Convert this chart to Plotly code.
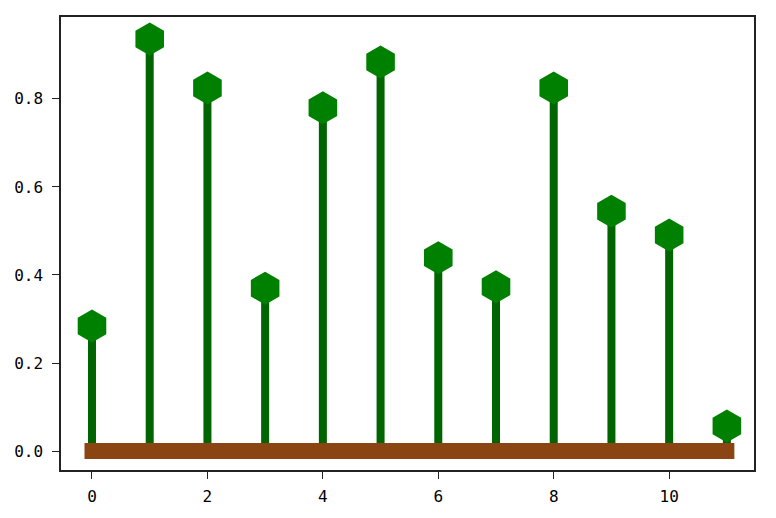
import plotly.graph_objects as go

x_vals = list(range(12))
y_vals = [0.284, 0.936, 0.825, 0.370, 0.780, 0.884, 0.439, 0.373, 0.825, 0.545, 0.491, 0.057]
x_ticks = [0, 2, 4, 6, 8, 10]
y_ticks = [0.0, 0.2, 0.4, 0.6, 0.8]
baseline_value = 0.0

stem_x, stem_y = [], []
for xv, yv in zip(x_vals, y_vals):
    stem_x += [xv, xv, None]
    stem_y += [baseline_value, yv, None]

cap = 0.13
fig = go.Figure()
fig.add_trace(go.Scatter(x=stem_x, y=stem_y, mode="lines",
                         line=dict(color="#006400", width=8), hoverinfo="skip"))
fig.add_trace(go.Scatter(x=[min(x_vals) - cap, max(x_vals) + cap], y=[baseline_value, baseline_value],
                         mode="lines", line=dict(color="#8B4513", width=16)))
fig.add_trace(go.Scatter(x=x_vals, y=y_vals, mode="markers",
                         marker=dict(symbol="hexagon", size=33, color="#008000", line=dict(width=0))))

fig.update_layout(
    width=776, height=518, showlegend=False,
    margin=dict(l=53, r=30, t=9, b=56),
    paper_bgcolor="white", plot_bgcolor="white",
    font=dict(family="DejaVu Sans Mono", size=16, color="black"),
)
axis_style = dict(showgrid=False, zeroline=False, showline=True, linecolor="#222222", linewidth=1.5,
                  mirror=True, ticks="outside", ticklen=7, tickwidth=1.3, tickcolor="#222222",
                  automargin=False)
fig.update_xaxes(range=[-0.537, 11.47], tickvals=x_ticks, ticktext=[str(t) for t in x_ticks],
                 ticklabelstandoff=4, **axis_style)
fig.update_yaxes(range=[-0.043, 0.986], tickvals=y_ticks, ticktext=[f"{t:.1f}" for t in y_ticks],
                 ticklabelstandoff=6, **axis_style)
fig.write_html("out.html")
